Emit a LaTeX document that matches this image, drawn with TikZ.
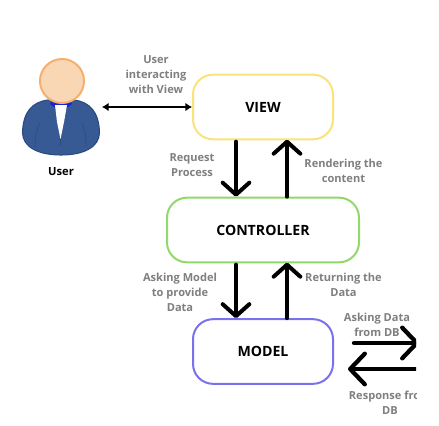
\documentclass[tikz,border=0pt]{standalone}
\usepackage{fontspec}
\setmainfont{Open Sans}
\usetikzlibrary{arrows.meta}
\definecolor{lbl}{HTML}{7F7F7F}
\definecolor{viewc}{HTML}{FBE27A}
\definecolor{ctrlc}{HTML}{92D96B}
\definecolor{modelc}{HTML}{7B70EE}
\definecolor{suit}{HTML}{375A94}
\definecolor{suitd}{HTML}{2A4A80}
\definecolor{skin}{HTML}{F9D7B5}
\definecolor{skind}{HTML}{F6AF6E}
\tikzset{
  box/.style={draw,rounded corners=15pt,line width=1.5pt,fill=white,inner sep=0pt,
    font=\fontsize{10.6pt}{12pt}\bfseries,text=black},
  note/.style={text=lbl,font=\fontsize{8.3pt}{11.4pt}\selectfont\bfseries,align=center,inner sep=0pt},
  bigarrow/.style={line width=3pt,line cap=round,-{Straight Barb[round,length=9pt,width=20pt,line width=3pt]}},
  dbarrow/.style={line width=3.2pt,line cap=round,-{Straight Barb[round,length=11pt,width=23pt,line width=3.2pt]}},
  smallarrow/.style={line width=1.6pt,{Latex[length=5pt,width=6.5pt]}-{Latex[length=5pt,width=6.5pt]}},
}
\begin{document}
\begin{tikzpicture}[x=0.75pt,y=-0.75pt]
\useasboundingbox (0,0) rectangle (439,425);
\fill[white] (0,0) rectangle (439,425);
% boxes
\node[box,draw=viewc,minimum width=105pt,minimum height=48.5pt] (view) at (263,107) {\raisebox{-0.75pt}{VIEW}};
\node[box,draw=ctrlc,minimum width=144pt,minimum height=48.5pt] (ctrl) at (263,230) {\raisebox{-0.75pt}{CONTROLLER}};
\node[box,draw=modelc,minimum width=105pt,minimum height=48.5pt] (model) at (263,351.5) {\raisebox{-0.5pt}{MODEL}};
% user figure
\fill[suit,draw=suitd,line width=0.8pt] (48,100)
  .. controls (32,102) and (23,112) .. (22.5,133)
  .. controls (23,147) and (38,155) .. (61,155)
  .. controls (84,155) and (99,147) .. (99.5,133)
  .. controls (99,112) and (90,102) .. (74,100) -- cycle;
\fill[blue!60!suit] (51,101) -- (71,101) -- (72,104) -- (68,107) -- (54,107) -- (50,104) -- cycle;
\fill[white] (55,105) -- (67,105) -- (64,122) -- (60.5,139) -- (57,122) -- cycle;
\draw[suitd,line width=0.4pt] (40,123) .. controls (36,130) and (35,138) .. (35,147);
\draw[suitd,line width=0.4pt] (82,123) .. controls (85,130) and (86,138) .. (86,147);
\draw[suitd,line width=0.5pt] (60.5,139) -- (60.5,146);
\node[circle,draw=skind,fill=skin,line width=1.5pt,minimum size=33pt,inner sep=0pt] (head) at (62,81) {};
\coordinate (userR) at (102,107);
\node[font=\fontsize{8.4pt}{10pt}\selectfont\bfseries,text=black,inner sep=0pt] (userl) at (61,171.5) {User};
% connectors
\draw[smallarrow] (userR) -- (view.west);
\draw[bigarrow] ([xshift=-20.25pt,yshift=-1pt]view.south) -- ([xshift=-20.25pt]ctrl.north);
\draw[bigarrow,shorten >=-1.5pt] ([xshift=18pt]ctrl.north) -- ([xshift=18pt,yshift=-1pt]view.south);
\draw[bigarrow] ([xshift=-20.25pt,yshift=-1pt]ctrl.south) -- ([xshift=-20.25pt]model.north);
\draw[bigarrow,shorten >=-1.5pt] ([xshift=18pt]model.north) -- ([xshift=18pt,yshift=-1pt]ctrl.south);
% labels
\node[note] (n1) at (156,74.5) {User\\interacting\\with View};
\node[note] (n2) at (192,165) {Request\\Process};
\node[note] (n3) at (343.5,171) {Rendering the\\content};
\node[note] (n4) at (180,292.5) {Asking Model\\to provide\\Data};
\node[note] (n5) at (343.5,285) {Returning the\\Data};
\begin{scope}
\clip (0,0) rectangle (416,425);
\coordinate (dbR1) at (419,343);
\coordinate (dbL2) at (422,369);
\draw[dbarrow] ([xshift=15pt]model.east |- dbR1) -- (dbR1);
\draw[dbarrow,shorten >=-1.5pt] (dbL2) -- ([xshift=12pt]model.east |- dbL2);
\node[note] (n6) at (377,325) {Asking Data\\from DB};
\node[note] (n7) at (390,402.5) {Response from\\DB};
\end{scope}
\end{tikzpicture}
\end{document}
